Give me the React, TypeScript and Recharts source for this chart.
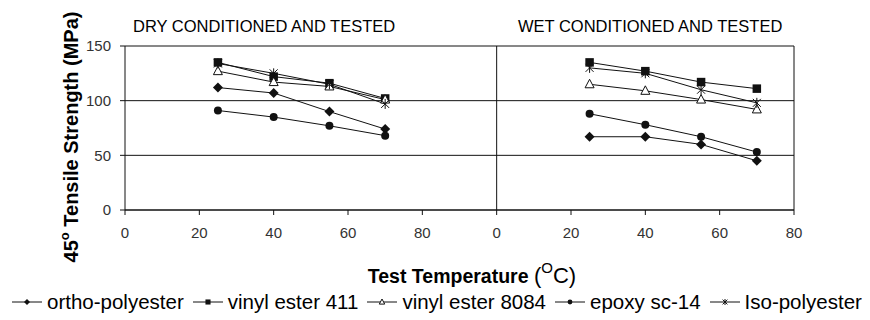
import React from 'react';
import {
  CartesianGrid,
  Legend,
  Line,
  LineChart,
  ReferenceLine,
  XAxis,
  YAxis,
} from 'recharts';

// test temperatures (°C), the same for both panels
const temps = [25, 40, 55, 70];
// wet panel is drawn on the same axis, shifted right by 100
const WET_SHIFT = 100;

const xTicks = [0, 20, 40, 60, 80, 100, 120, 140, 160, 180];
const yTicks = [0, 50, 100, 150];

const seriesNames = [
  'ortho-polyester',
  'vinyl ester 411',
  'vinyl ester 8084',
  'epoxy sc-14',
  'Iso-polyester',
];

// dry conditioned and tested (MPa)
const dryOrtho = [112, 107, 90, 74];
const dryVe411 = [135, 122, 116, 102];
const dryVe8084 = [127, 117, 113, 101];
const dryEpoxy = [91, 85, 77, 68];
const dryIso = [134, 125, 115, 97];

// wet conditioned and tested (MPa)
const wetOrtho = [67, 67, 60, 45];
const wetVe411 = [135, 127, 117, 111];
const wetVe8084 = [115, 109, 101, 92];
const wetEpoxy = [88, 78, 67, 53];
const wetIso = [130, 125, 110, 98];

const keys = ['ortho', 've411', 've8084', 'epoxy', 'iso'];
const shapes = ['diamond', 'square', 'triangle', 'circle', 'star'];
const dryValues = [dryOrtho, dryVe411, dryVe8084, dryEpoxy, dryIso];
const wetValues = [wetOrtho, wetVe411, wetVe8084, wetEpoxy, wetIso];

const FONT = '"Liberation Sans", Arial, sans-serif';
const INK = '#111';

const rows = [
  ...temps.map((t, i) => {
    const r: Record<string, number> = { x: t };
    keys.forEach((k, s) => (r[`${k}_dry`] = dryValues[s][i]));
    return r;
  }),
  ...temps.map((t, i) => {
    const r: Record<string, number> = { x: t + WET_SHIFT };
    keys.forEach((k, s) => (r[`${k}_wet`] = wetValues[s][i]));
    return r;
  }),
];

function Marker({ shape, cx, cy, s }: { shape: string; cx: number; cy: number; s: number }) {
  switch (shape) {
    case 'diamond':
      return (
        <polygon
          points={`${cx},${cy - s} ${cx + s},${cy} ${cx},${cy + s} ${cx - s},${cy}`}
          fill={INK}
        />
      );
    case 'square':
      return <rect x={cx - s * 0.85} y={cy - s * 0.85} width={s * 1.7} height={s * 1.7} fill={INK} />;
    case 'triangle':
      return (
        <polygon
          points={`${cx},${cy - s} ${cx + s * 0.9},${cy + s * 0.7} ${cx - s * 0.9},${cy + s * 0.7}`}
          fill="#fff"
          stroke={INK}
          strokeWidth={1}
        />
      );
    case 'circle':
      return <circle cx={cx} cy={cy} r={s * 0.8} fill={INK} />;
    default: {
      const d = s * 0.8;
      return (
        <g stroke={INK} strokeWidth={1}>
          <line x1={cx - d} y1={cy - d} x2={cx + d} y2={cy + d} />
          <line x1={cx - d} y1={cy + d} x2={cx + d} y2={cy - d} />
          <line x1={cx} y1={cy - s} x2={cx} y2={cy + s} />
        </g>
      );
    }
  }
}

const makeDot = (shape: string) => (p: any) => {
  const key = `${p.dataKey}-${p.index}`;
  if (p.cx == null || p.cy == null || p.value == null) return <g key={key} />;
  return (
    <g key={key}>
      <Marker shape={shape} cx={p.cx} cy={p.cy} s={5} />
    </g>
  );
};

function LegendRow() {
  return (
    <div
      style={{
        display: 'flex',
        alignItems: 'center',
        height: 24,
        paddingLeft: 12,
        fontFamily: FONT,
        fontSize: 20.5,
        color: '#000',
        whiteSpace: 'nowrap',
      }}
    >
      {seriesNames.map((name, i) => (
        <div key={name} style={{ display: 'flex', alignItems: 'center', marginRight: 9 }}>
          <svg width={30} height={12}>
            <line x1={0} y1={6} x2={30} y2={6} stroke={INK} strokeWidth={1} />
            <Marker shape={shapes[i]} cx={15} cy={6} s={3} />
          </svg>
          <span style={{ marginLeft: 5 }}>{name}</span>
        </div>
      ))}
    </div>
  );
}

function YTitle() {
  return (
    <text
      transform="translate(78, 137) rotate(-90)"
      textAnchor="middle"
      fontFamily={FONT}
      fontWeight="bold"
      fontSize={20}
      fill="#000"
    >
      45
      <tspan fontSize={13} dy={-9}>
        o
      </tspan>
      <tspan dy={9}> Tensile Strength (MPa)</tspan>
    </text>
  );
}

function XTitle() {
  return (
    <text x={472} y={283} textAnchor="middle" fontFamily={FONT} fill="#000">
      <tspan fontWeight="bold" fontSize={19.5}>
        Test Temperature{' '}
      </tspan>
      <tspan fontSize={22}>(</tspan>
      <tspan fontSize={15} dy={-10}>
        O
      </tspan>
      <tspan fontSize={22} dy={10}>
        C)
      </tspan>
    </text>
  );
}

export default function App() {
  return (
    <div style={{ position: 'fixed', left: 0, top: 0, width: 870, height: 320, background: '#fff' }}>
      <LineChart
        width={870}
        height={320}
        data={rows}
        margin={{ top: 46, right: 76, left: 0, bottom: 56 }}
      >
        <CartesianGrid vertical={false} stroke={INK} strokeWidth={1} />
        <XAxis
          type="number"
          dataKey="x"
          domain={[0, 180]}
          ticks={xTicks}
          tickFormatter={(v) => String(v % 100)}
          height={30}
          stroke={INK}
          tickSize={5}
          tickMargin={12}
          tick={{ fontSize: 15, fill: '#333', fontFamily: FONT }}
          label={{ content: () => <XTitle /> }}
        />
        <YAxis
          domain={[0, 150]}
          ticks={yTicks}
          width={125}
          stroke={INK}
          tickSize={5}
          tickMargin={9}
          tick={{ fontSize: 15, fill: '#333', fontFamily: FONT }}
          label={{ content: () => <YTitle /> }}
        />
        <ReferenceLine x={WET_SHIFT} stroke={INK} strokeWidth={1} />
        <ReferenceLine x={180} stroke={INK} strokeWidth={1} />
        <text x={133} y={32} fontFamily={FONT} fontSize={16.5} fill="#000">
          DRY CONDITIONED AND TESTED
        </text>
        <text x={518} y={32} fontFamily={FONT} fontSize={16.5} fill="#000">
          WET CONDITIONED AND TESTED
        </text>
        {keys.map((k, i) => (
          <Line
            key={`${k}_dry`}
            dataKey={`${k}_dry`}
            name={seriesNames[i]}
            stroke={INK}
            strokeWidth={1}
            dot={makeDot(shapes[i])}
            activeDot={false}
            isAnimationActive={false}
          />
        ))}
        {keys.map((k, i) => (
          <Line
            key={`${k}_wet`}
            dataKey={`${k}_wet`}
            name={seriesNames[i]}
            stroke={INK}
            strokeWidth={1}
            dot={makeDot(shapes[i])}
            activeDot={false}
            legendType="none"
            isAnimationActive={false}
          />
        ))}
        <Legend
          content={() => <LegendRow />}
          wrapperStyle={{ position: 'absolute', left: 0, top: 290, width: 870, height: 24 }}
        />
      </LineChart>
    </div>
  );
}
